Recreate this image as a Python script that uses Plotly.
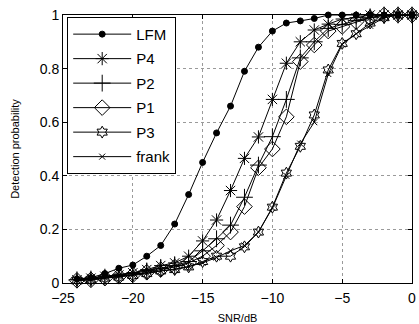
import plotly.graph_objects as go

snr = list(range(-24, 1))

lfm = [0.015, 0.02, 0.035, 0.055, 0.067, 0.10, 0.14, 0.22, 0.33, 0.45, 0.56, 0.66, 0.79,
       0.88, 0.94, 0.97, 0.978, 0.987, 1, 1, 1, 1, 1, 1, 1]
p4 = [0.012, 0.018, 0.025, 0.03, 0.038, 0.05, 0.065, 0.075, 0.10, 0.157, 0.235, 0.345, 0.465,
      0.545, 0.685, 0.82, 0.90, 0.944, 0.966, 0.985, 0.99, 1, 1, 1, 1]
p2 = [0.012, 0.015, 0.022, 0.028, 0.035, 0.045, 0.055, 0.065, 0.08, 0.12, 0.165, 0.216, 0.32,
      0.44, 0.546, 0.685, 0.84, 0.90, 0.95, 0.965, 0.98, 0.99, 1, 1, 1]
p1 = [0.01, 0.012, 0.018, 0.025, 0.03, 0.04, 0.05, 0.06, 0.075, 0.10, 0.14, 0.19, 0.285,
      0.43, 0.50, 0.62, 0.826, 0.888, 0.94, 0.957, 0.975, 0.99, 1, 1, 1]
p3 = [0.01, 0.012, 0.018, 0.022, 0.028, 0.035, 0.045, 0.05, 0.06, 0.08, 0.10, 0.10, 0.135,
      0.19, 0.283, 0.41, 0.51, 0.627, 0.795, 0.894, 0.93, 0.97, 0.99, 1, 1]
frank = [0.01, 0.013, 0.02, 0.025, 0.03, 0.037, 0.045, 0.052, 0.062, 0.075, 0.095, 0.12, 0.14,
         0.19, 0.28, 0.40, 0.52, 0.60, 0.78, 0.89, 0.93, 0.96, 0.99, 1, 1]

series = [
    ("LFM", lfm, "circle", 6),
    ("P4", p4, "asterisk-open", 11),
    ("P2", p2, "cross-thin-open", 12),
    ("P1", p1, "diamond-open", 12),
    ("P3", p3, "hexagram-open", 9),
    ("frank", frank, "x-thin-open", 6),
]

fig = go.Figure()
for i, (name, vals, sym, sz) in enumerate(series):
    fig.add_trace(go.Scatter(
        x=snr, y=vals, name=name, mode="lines+markers",
        line=dict(color="black", width=1),
        marker=dict(symbol=sym, size=sz, color="black",
                    line=dict(color="black", width=1)),
        cliponaxis=False, legendgroup=f"g{i}",
    ))

FONT = "Liberation Sans, Arial"
axis_common = dict(
    showline=True, linecolor="black", linewidth=1, mirror="ticks",
    ticks="inside", ticklen=4, tickcolor="black",
    showgrid=True, gridcolor="#9a9a9a", griddash="dot", gridwidth=1,
    zeroline=False, automargin=False, ticklabeloverflow="allow",
    tickfont=dict(family=FONT, size=14, color="black"),
)

fig.update_xaxes(range=[-25, 0], dtick=5, tick0=-25, ticklabelstandoff=2,
                 title=dict(text="SNR/dB", font=dict(family=FONT, size=11, color="black"), standoff=12),
                 **axis_common)
fig.update_yaxes(range=[0, 1], dtick=0.2, tick0=0,
                 title=dict(text="Detection probability", font=dict(family=FONT, size=11, color="black"), standoff=17),
                 **axis_common)

fig.update_layout(
    width=419, height=324,
    margin=dict(l=63, r=7, t=15, b=41, autoexpand=False),
    paper_bgcolor="white", plot_bgcolor="white",
    showlegend=True,
    legend=dict(x=0.012, y=0.993, xanchor="left", yanchor="top",
                bgcolor="white", bordercolor="black", borderwidth=1,
                font=dict(family=FONT, size=15, color="black"),
                itemwidth=58, tracegroupgap=2),
)

fig.write_html("out.html", config={"displayModeBar": False},
               post_script="document.body.style.margin='0';document.body.style.overflow='hidden';")
